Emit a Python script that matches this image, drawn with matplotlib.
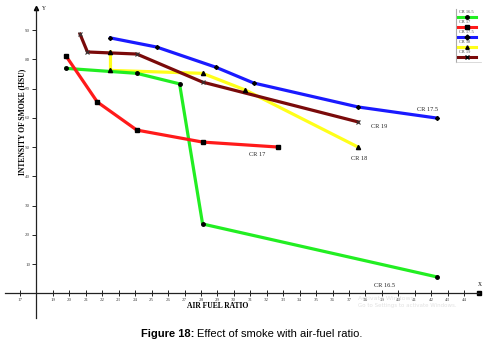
import matplotlib
matplotlib.use("Agg")
import matplotlib.pyplot as plt
from matplotlib.lines import Line2D

# ── data ───────────────────────────────────────────────────────────────────────
cr165_x = [19.8, 24.1, 26.7, 28.1, 42.35]
cr165_y = [76.9, 75.2, 71.6, 23.7, 5.6]

cr17_x = [19.8, 21.7, 24.1, 28.1, 32.7]
cr17_y = [81.1, 65.4, 55.8, 51.7, 50.0]

cr175_x = [22.5, 25.3, 28.9, 31.2, 37.55, 42.35]
cr175_y = [87.3, 84.2, 77.3, 71.9, 63.7, 59.9]

cr18_x = [22.5, 22.5, 28.1, 30.7, 37.55]
cr18_y = [82.5, 76.2, 75.2, 69.5, 50.0]

cr19_x = [20.65, 21.1, 24.1, 28.1, 37.55]
cr19_y = [88.6, 82.5, 81.8, 72.2, 58.6]

series_names = ["CR 16.5", "CR 17", "CR 17.5", "CR 18", "CR 19"]
x_ticks = [17] + list(range(19, 45))
y_ticks = [10, 20, 30, 40, 50, 60, 70, 80, 90]

# ── canvas ─────────────────────────────────────────────────────────────────────
fig = plt.figure(figsize=(4.84, 3.49), dpi=100)
fig.patch.set_facecolor("white")
ax = fig.add_axes([0, 0, 1, 1])
ax.set_xlim(15.784, 45.207)
ax.set_ylim(-19.04, 100.27)
ax.set_facecolor("white")

for s in ["top", "right"]:
    ax.spines[s].set_visible(False)
ax.spines["left"].set_position(("data", 18))
ax.spines["bottom"].set_position(("data", 0))
ax.spines["left"].set_bounds(-8.5, 97.5)
ax.spines["bottom"].set_bounds(16.1, 44.9)
for s in ["left", "bottom"]:
    ax.spines[s].set_linewidth(0.9)
    ax.spines[s].set_color("#222222")

serif = ["Liberation Serif", "DejaVu Serif"]
ax.set_xticks(x_ticks)
ax.set_xticklabels([str(v) for v in x_ticks], fontsize=3.6, color="#444444",
                   family=serif)
ax.set_yticks(y_ticks)
ax.set_yticklabels([str(v) for v in y_ticks], fontsize=3.6, color="#444444",
                   family=serif)
ax.tick_params(axis="x", direction="inout", length=4, width=0.6, pad=1.5)
ax.tick_params(axis="y", direction="out", length=3, width=0.6, pad=1.5)

# axis ends
ax.plot([44.9], [0], marker="s", ms=3.5, color="black", clip_on=False)
ax.plot([18], [97.5], marker="^", ms=3, color="black", clip_on=False)
ax.text(44.95, 2.2, "X", fontsize=4, family=serif, ha="center", va="bottom")
ax.text(18.35, 97.3, "Y", fontsize=4, family=serif, ha="left", va="center")

# ── series ─────────────────────────────────────────────────────────────────────
LW = 2.3
ax.plot(cr165_x, cr165_y, color="#22ee22", lw=LW, zorder=3)
ax.plot(cr165_x, cr165_y, ls="none", marker="o", ms=2.5, color="black", zorder=4)
ax.plot(cr17_x, cr17_y, color="#ff1a1a", lw=LW, zorder=3)
ax.plot(cr17_x, cr17_y, ls="none", marker="s", ms=3, color="black", zorder=4)
ax.plot(cr175_x, cr175_y, color="#1a1aff", lw=LW, zorder=3)
ax.plot(cr175_x, cr175_y, ls="none", marker="D", ms=2, color="black", zorder=4)
ax.plot(cr18_x, cr18_y, color="#ffff1a", lw=LW, zorder=2)
ax.plot(cr18_x, cr18_y, ls="none", marker="^", ms=3, color="black", zorder=4)
ax.plot(cr19_x, cr19_y, color="#7a0a0a", lw=LW, zorder=3)
ax.plot(cr19_x, cr19_y, ls="none", marker="x", ms=3.5, mew=0.8, color="#333333",
        zorder=4)

# line-end labels
lab_kw = dict(fontsize=4.5, family=serif, color="#222222", ha="left", va="center")
ax.text(cr17_x[-1] - 1.8, cr17_y[-1] - 2.5, "CR 17", **lab_kw)
ax.text(cr18_x[-1] - 0.4, cr18_y[-1] - 4.0, "CR 18", **lab_kw)
ax.text(cr19_x[-1] + 0.8, cr19_y[-1] - 1.5, "CR 19", **lab_kw)
ax.text(cr175_x[-1] - 1.2, cr175_y[-1] + 2.8, "CR 17.5", **lab_kw)
ax.text(cr165_x[-1] - 3.8, cr165_y[-1] - 2.8, "CR 16.5", **lab_kw)

# ── legend (label above each line sample) ──────────────────────────────────────
colors = ["#22ee22", "#ff1a1a", "#1a1aff", "#ffff1a", "#7a0a0a"]
marks = ["o", "s", "D", "^", "x"]
W, H = 484.0, 349.0
fig.add_artist(Line2D([456 / W, 456 / W], [1 - 9 / H, 1 - 62 / H],
                      color="#aaaaaa", lw=0.8))
fig.add_artist(Line2D([456 / W, 481 / W], [1 - 62 / H, 1 - 62 / H],
                      color="#cccccc", lw=0.5))
for i, (name, c, m) in enumerate(zip(series_names, colors, marks)):
    ty = 12 + i * 10
    ly = ty + 5
    fig.text(459 / W, 1 - ty / H, name, fontsize=3.2, family=serif,
             color="#444444", va="center", ha="left")
    fig.add_artist(Line2D([458 / W, 476 / W], [1 - ly / H, 1 - ly / H],
                          color=c, lw=2.2))
    fig.add_artist(Line2D([467 / W], [1 - ly / H], marker=m, ms=2.5,
                          color="black", ls="none"))

# ── axis titles ────────────────────────────────────────────────────────────────
fig.text(187 / W, 1 - 306 / H, "AIR FUEL RATIO", fontsize=5.5, family=serif,
         fontweight="bold", ha="left", va="center")
fig.text(22 / W, 1 - 122 / H, "INTENSITY OF SMOKE (HSU)", fontsize=5.5,
         family=serif, fontweight="bold", rotation=90, ha="center", va="center")

# faint watermark from the screenshot
fig.text(358 / W, 1 - 299 / H, "Activate Windows", fontsize=4.5,
         color="#e2e2e2", ha="left", va="center", zorder=0)
fig.text(358 / W, 1 - 306 / H, "Go to Settings to activate Windows.", fontsize=4,
         color="#e2e2e2", ha="left", va="center", zorder=0)

# ── caption ────────────────────────────────────────────────────────────────────
sans = ["Liberation Sans", "DejaVu Sans"]
fig.text(194 / W, 1 - 334 / H, "Figure 18:", fontsize=8, family=sans,
         fontweight="bold", ha="right", va="center")
fig.text(197 / W, 1 - 334 / H, "Effect of smoke with air-fuel ratio.",
         fontsize=8, family=sans, ha="left", va="center")

fig.savefig("out.png", dpi=100, facecolor="white")
